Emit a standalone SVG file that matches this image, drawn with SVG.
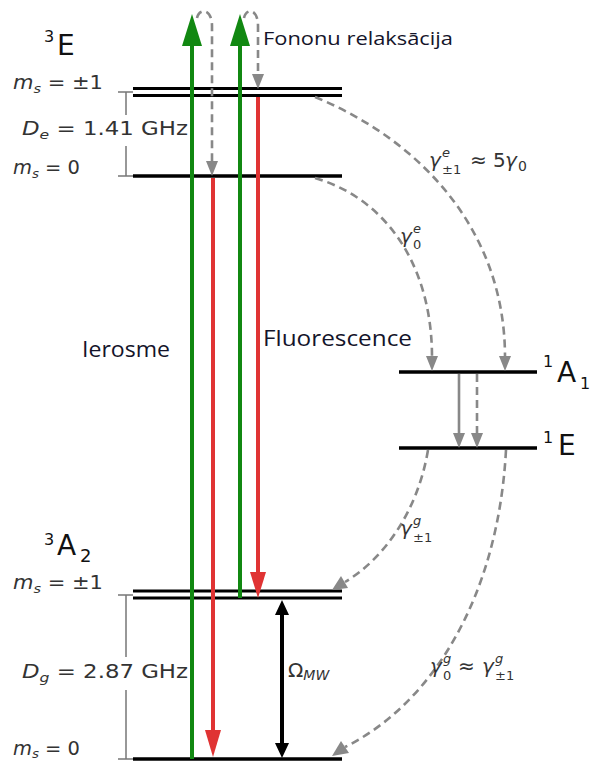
<svg xmlns="http://www.w3.org/2000/svg" width="595" height="763" viewBox="0 0 595 763">
<style>
.lvl{stroke:#000;stroke-width:3.5;fill:none}
.dl{stroke:#000;stroke-width:3;fill:none}
.br{stroke:#777;stroke-width:1.5;fill:none}
.dash{stroke:#888;stroke-width:2.6;fill:none;stroke-dasharray:8 5}
.solidg{stroke:#888;stroke-width:2.6;fill:none}
.hd{fill:#888}
.green{stroke:#118811;stroke-width:4}
.red{stroke:#e03333;stroke-width:4}
.blk{stroke:#000;stroke-width:4}
.lab{font-family:"DejaVu Sans",sans-serif;fill:#333}
.big{font-family:"DejaVu Sans",sans-serif;fill:#111}
.it{font-style:italic}
.sm{font-size:13px}
.note{font-family:"Open Sans","Noto Sans",sans-serif;fill:#14142a}
</style>
<rect width="595" height="763" fill="#fff"/>
<g id="level-3E-pm1"><line class="dl" x1="133" y1="88.5" x2="342" y2="88.5"/><line class="dl" x1="133" y1="95.5" x2="342" y2="95.5"/></g>
<g id="level-3E-0"><line class="lvl" x1="133" y1="176" x2="342" y2="176"/></g>
<g id="level-1A1"><line class="lvl" x1="399" y1="372" x2="537" y2="372"/></g>
<g id="level-1E"><line class="lvl" x1="399" y1="448" x2="537" y2="448"/></g>
<g id="level-3A2-pm1"><line class="dl" x1="133" y1="591" x2="342" y2="591"/><line class="dl" x1="133" y1="598" x2="342" y2="598"/></g>
<g id="level-3A2-0"><line class="lvl" x1="133" y1="759" x2="342" y2="759"/></g>
<g id="brackets">
<path class="br" d="M118,92 H133 M126,92 V115 M126,146 V176 M118,176 H133"/>
<path class="br" d="M118,595 H133 M126,595 V657 M126,690 V759 M118,759 H133"/>
</g>
<g id="connectors">
<line class="green" x1="192" y1="759" x2="192" y2="44"/><polygon fill="#118811" points="182,46 192,14 202,46"/>
<line class="green" x1="240" y1="598" x2="240" y2="44"/><polygon fill="#118811" points="230,46 240,14 250,46"/>
<line class="red" x1="213" y1="178" x2="213" y2="732"/><polygon fill="#e03333" points="205,730 213,757 221,730"/>
<line class="red" x1="258" y1="97" x2="258" y2="574"/><polygon fill="#e03333" points="250,572 258,598 266,572"/>
<line class="blk" x1="282" y1="612" x2="282" y2="746"/><polygon fill="#000" points="275,615 282,600 289,615"/><polygon fill="#000" points="275,743 282,758 289,743"/>
<path class="dash" d="M197,18 C199,8 212,8 212,26 V162"/><polygon class="hd" points="206,161 212,176 218,161"/>
<path class="dash" d="M244,18 C246,8 258,8 258,26 V75"/><polygon class="hd" points="252,74 258,89 264,74"/>
<path class="dash" d="M315,97 C420,140 505,230 505,357"/><polygon class="hd" points="499,356 505,371 511,356"/>
<path class="dash" d="M315,178 C390,200 432,270 432,357"/><polygon class="hd" points="426,356 432,371 438,356"/>
<line class="solidg" x1="459" y1="374" x2="459" y2="434"/><polygon class="hd" points="453,433 459,448 465,433"/>
<path class="dash" d="M477,374 V434"/><polygon class="hd" points="471,433 477,448 483,433"/>
<path class="dash" d="M428,450 C418,510 385,558 345,582"/><polygon class="hd" points="341,576 332,590 348,588"/>
<path class="dash" d="M506,450 C498,600 430,705 345,747"/><polygon class="hd" points="341,741 332,756 349,753"/>
</g>
<g id="labels">
<text class="big" x="44" y="42" font-size="16">3</text><text class="big" x="57" y="55" font-size="28">E</text>
<text class="lab" x="13" y="89" font-size="19" textLength="90" lengthAdjust="spacingAndGlyphs"><tspan class="it">m</tspan><tspan class="it" font-size="13" dy="4">s</tspan><tspan dy="-4"> = ±1</tspan></text>
<text class="lab" x="22" y="135" font-size="19" textLength="166" lengthAdjust="spacingAndGlyphs"><tspan class="it">D</tspan><tspan class="it" font-size="13" dy="4">e</tspan><tspan dy="-4"> = 1.41 GHz</tspan></text>
<text class="lab" x="13" y="174" font-size="19" textLength="67" lengthAdjust="spacingAndGlyphs"><tspan class="it">m</tspan><tspan class="it" font-size="13" dy="4">s</tspan><tspan dy="-4"> = 0</tspan></text>
<text class="big" x="44" y="545" font-size="16">3</text><text class="big" x="57" y="555" font-size="28">A</text><text class="big" x="80" y="562" font-size="18">2</text>
<text class="lab" x="13" y="589" font-size="19" textLength="90" lengthAdjust="spacingAndGlyphs"><tspan class="it">m</tspan><tspan class="it" font-size="13" dy="4">s</tspan><tspan dy="-4"> = ±1</tspan></text>
<text class="lab" x="22" y="678" font-size="19" textLength="166" lengthAdjust="spacingAndGlyphs"><tspan class="it">D</tspan><tspan class="it" font-size="13" dy="4">g</tspan><tspan dy="-4"> = 2.87 GHz</tspan></text>
<text class="lab" x="13" y="755" font-size="19" textLength="67" lengthAdjust="spacingAndGlyphs"><tspan class="it">m</tspan><tspan class="it" font-size="13" dy="3">s</tspan><tspan dy="-3"> = 0</tspan></text>
<text class="big" x="543" y="367" font-size="16">1</text><text class="big" x="557" y="382" font-size="28">A</text><text class="big" x="580" y="389" font-size="16">1</text>
<text class="big" x="543" y="443" font-size="16">1</text><text class="big" x="558" y="455" font-size="28">E</text>
<text class="note" x="263" y="45" font-size="19" textLength="190" lengthAdjust="spacingAndGlyphs">Fononu relaksācija</text>
<text class="note" x="82" y="357" font-size="22" textLength="88" lengthAdjust="spacingAndGlyphs">Ierosme</text>
<text class="note" x="263" y="346" font-size="22" textLength="149" lengthAdjust="spacingAndGlyphs">Fluorescence</text>
<text class="lab it" x="429" y="167" font-size="20">γ</text>
<text class="lab it sm" x="442" y="157">e</text>
<text class="lab sm" x="442" y="174">±1</text>
<text class="lab" x="470" y="167" font-size="20">≈ 5</text>
<text class="lab it" x="505" y="167" font-size="20">γ</text>
<text class="lab" x="518" y="171" font-size="14">0</text>
<text class="lab it" x="400" y="243" font-size="20">γ</text>
<text class="lab it sm" x="413" y="233">e</text>
<text class="lab sm" x="413" y="249">0</text>
<text class="lab it" x="400" y="535" font-size="20">γ</text>
<text class="lab it sm" x="413" y="525">g</text>
<text class="lab sm" x="413" y="542">±1</text>
<text class="lab it" x="430" y="673" font-size="20">γ</text>
<text class="lab it sm" x="443" y="663">g</text>
<text class="lab sm" x="443" y="680">0</text>
<text class="lab" x="458" y="673" font-size="20">≈</text>
<text class="lab it" x="482" y="673" font-size="20">γ</text>
<text class="lab it sm" x="495" y="663">g</text>
<text class="lab sm" x="495" y="680">±1</text>
<text class="lab" x="288" y="677" font-size="20">Ω<tspan class="it" font-size="14" dy="3">MW</tspan></text>
</g>
</svg>
